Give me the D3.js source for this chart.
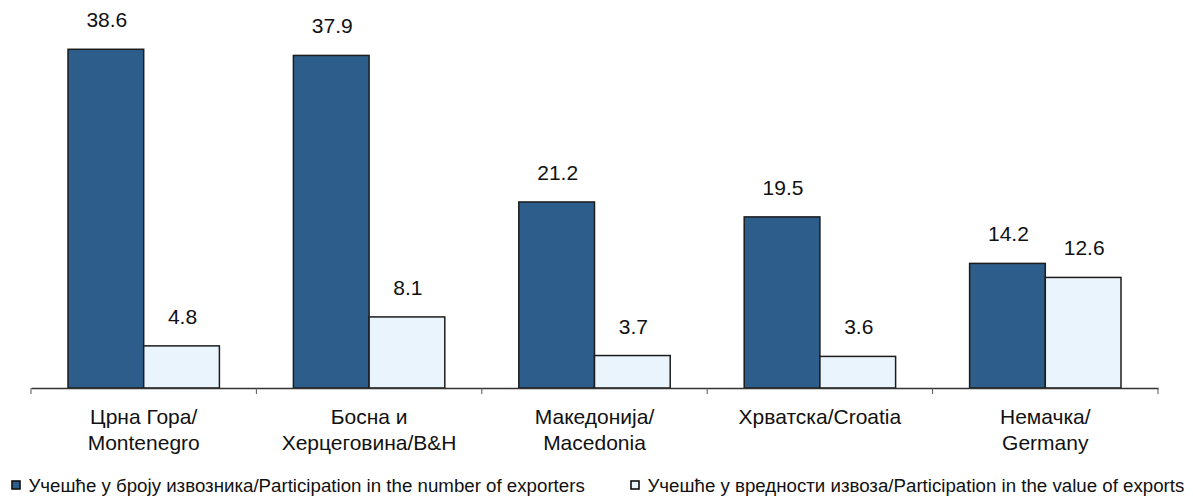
<!DOCTYPE html>
<html>
<head>
<meta charset="utf-8">
<script src="https://cdn.jsdelivr.net/npm/d3@7"></script>
<style>
  body { margin: 0; background: #fff; }
  svg { display: block; font-family: "Liberation Sans", Arial, sans-serif; }
</style>
</head>
<body>
<svg id="chart" width="1193" height="496"></svg>
<script>
var categories = [
  ['Црна Гора/', 'Montenegro'],
  ['Босна и', 'Херцеговина/B&H'],
  ['Македонија/', 'Macedonia'],
  ['Хрватска/Croatia'],
  ['Немачка/', 'Germany']
];
var exporters = [38.6, 37.9, 21.2, 19.5, 14.2];
var exportValue = [4.8, 8.1, 3.7, 3.6, 12.6];
var seriesNames = [
  'Учешће у броју извозника/Participation in the number of exporters',
  'Учешће у вредности извоза/Participation in the value of exports'
];
var seriesColors = ['#2d5e8b', '#eaf4fd'];

var width = 1193, height = 496;
var left = 31, right = 1158, base = 388;

var svg = d3.select('#chart');

var x = d3.scaleBand()
  .domain(d3.range(categories.length))
  .range([left, right]);

var xs = d3.scaleBand()
  .domain([0, 1])
  .range([37, x.bandwidth() - 37]);

var y = d3.scaleLinear()
  .domain([0, 40])
  .range([base, 37]);

var series = [exporters, exportValue];

// bars + value labels
series.forEach(function(vals, s) {
  var g = svg.append('g');
  g.selectAll('rect')
    .data(vals)
    .enter()
    .append('rect')
    .attr('x', function(d, i) { return x(i) + xs(s); })
    .attr('y', function(d) { return y(d); })
    .attr('width', xs.bandwidth())
    .attr('height', function(d) { return base - y(d); })
    .style('fill', seriesColors[s])
    .style('stroke', '#1c1c1c')
    .style('stroke-width', 1.5);

  g.selectAll('text')
    .data(vals)
    .enter()
    .append('text')
    .attr('x', function(d, i) { return x(i) + xs(s) + xs.bandwidth() / 2 + 1; })
    .attr('y', function(d) { return y(d) - 22; })
    .attr('text-anchor', 'middle')
    .style('font-size', '21px')
    .style('fill', '#111')
    .text(function(d) { return d3.format('.1f')(d); });
});

// axis
var axis = svg.append('g')
  .attr('transform', 'translate(0,' + base + ')')
  .call(d3.axisBottom(x).tickValues([]).tickSizeOuter(0));
axis.select('.domain').attr('stroke', '#333').attr('stroke-width', 1.5);

axis.selectAll('.sep')
  .data(d3.range(categories.length + 1))
  .enter()
  .append('line')
  .attr('class', 'sep')
  .attr('x1', function(d) { return left + d * x.bandwidth(); })
  .attr('x2', function(d) { return left + d * x.bandwidth(); })
  .attr('y1', 0)
  .attr('y2', 6)
  .attr('stroke', '#555')
  .attr('stroke-width', 1);

// category labels
var lab = svg.append('g');
categories.forEach(function(lines, i) {
  var t = lab.append('text')
    .attr('text-anchor', 'middle')
    .style('font-size', '21px')
    .style('fill', '#111');
  lines.forEach(function(line, j) {
    t.append('tspan')
      .attr('x', x(i) + x.bandwidth() / 2)
      .attr('y', 424 + j * 26)
      .text(line);
  });
});

// legend
var legX = [12, 631];
var leg = svg.append('g');
seriesNames.forEach(function(name, s) {
  leg.append('rect')
    .attr('x', legX[s])
    .attr('y', 481)
    .attr('width', 8)
    .attr('height', 8)
    .style('fill', seriesColors[s])
    .style('stroke', '#111')
    .style('stroke-width', 1.6);
  leg.append('text')
    .attr('x', legX[s] + 16.5)
    .attr('y', 492)
    .style('font-size', '18.7px')
    .style('fill', '#111')
    .text(name);
});
</script>
</body>
</html>
